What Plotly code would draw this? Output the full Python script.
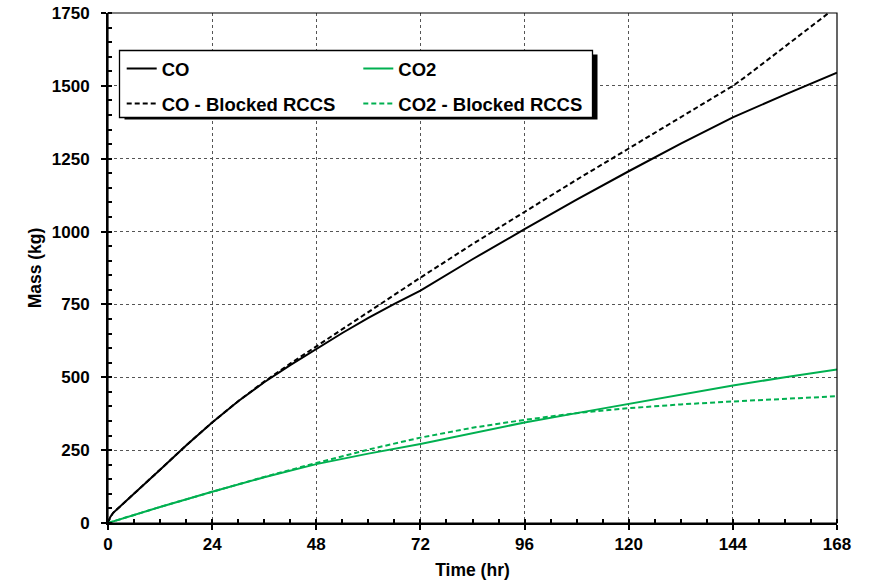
import plotly.graph_objects as go

# ---- data ----
hours_co = [0, 0.5, 1.2, 6, 12, 18, 24, 30, 36, 42, 48, 54, 60, 66, 72, 84, 96, 108, 120, 132, 144, 156, 168]
co_mass = [0, 20, 35, 100, 183, 266, 345, 418, 483, 542, 598, 652, 704, 752, 797, 905, 1008, 1110, 1207, 1302, 1392, 1470, 1545]

hours_co_blocked = [0, 0.5, 1.2, 6, 12, 18, 24, 30, 36, 42, 48, 54, 60, 66, 72, 84, 96, 108, 120, 132, 144, 147, 168]
co_blocked_mass = [0, 20, 35, 100, 183, 266, 345, 418, 485, 547, 606, 667, 726, 784, 842, 957, 1069, 1178, 1285, 1393, 1500, 1532, 1772]

hours_co2 = [0, 12, 24, 36, 48, 60, 72, 84, 96, 108, 120, 132, 144, 156, 168]
co2_mass = [0, 55, 107, 157, 202, 238, 271, 309, 345, 377, 409, 441, 472, 500, 527]
co2_blocked_mass = [0, 55, 107, 158, 206, 252, 293, 327, 354, 377, 394, 407, 417, 426, 435]

x_ticks = [0, 24, 48, 72, 96, 120, 144, 168]
y_ticks = [0, 250, 500, 750, 1000, 1250, 1500, 1750]

GREEN = "#00B050"
FONT = "Liberation Sans, Arial, sans-serif"

fig = go.Figure()
fig.add_trace(go.Scatter(x=hours_co, y=co_mass, mode="lines", name="<b>CO</b>",
                         line=dict(color="black", width=2), legend="legend", legendgroup="a"))
fig.add_trace(go.Scatter(x=hours_co_blocked, y=co_blocked_mass, mode="lines", name="<b>CO - Blocked RCCS</b>",
                         line=dict(color="black", width=2, dash="5px,3px"), legend="legend", legendgroup="b"))
fig.add_trace(go.Scatter(x=hours_co2, y=co2_mass, mode="lines", name="<b>CO2</b>",
                         line=dict(color=GREEN, width=2), legend="legend2", legendgroup="c"))
fig.add_trace(go.Scatter(x=hours_co2, y=co2_blocked_mass, mode="lines", name="<b>CO2 - Blocked RCCS</b>",
                         line=dict(color=GREEN, width=2, dash="5px,3px"), legend="legend2", legendgroup="d"))

# page pixel coordinates (body margin removed by post_script)
W, H = 872, 583
PL, PR, PT, PB = 108, 837, 13, 523   # plot area
ML, MT, MR, MB = PL, PT, W - PR, H - PB
PW, PH = PR - PL, PB - PT

def px(xp):
    return (xp - PL) / PW

def py(yp):
    return (PB - yp) / PH

box = dict(x0=119.5, x1=592.5, y0=50.5, y1=117.5)

shapes = [
    dict(type="rect", xref="paper", yref="paper", layer="above",
         x0=px(box["x0"] + 5), x1=px(box["x1"] + 5), y0=py(box["y1"] + 2), y1=py(box["y0"] + 4),
         fillcolor="black", line=dict(width=0)),
    dict(type="rect", xref="paper", yref="paper", layer="above",
         x0=px(box["x0"]), x1=px(box["x1"]), y0=py(box["y1"]), y1=py(box["y0"]),
         fillcolor="white", line=dict(color="black", width=1.3)),
    dict(type="rect", xref="paper", yref="paper", layer="above",
         x0=0, x1=1, y0=0, y1=1, line=dict(color="black", width=1.2)),
]

legend_common = dict(bgcolor="rgba(0,0,0,0)", borderwidth=0, orientation="v",
                     font=dict(family=FONT, size=18.5, color="black"),
                     tracegroupgap=8, xanchor="left", yanchor="top")

fig.update_layout(
    width=W, height=H,
    margin=dict(l=ML, r=MR, t=MT, b=MB, pad=0, autoexpand=False),
    paper_bgcolor="white", plot_bgcolor="white",
    font=dict(family=FONT, color="black"),
    shapes=shapes,
    legend=dict(x=px(121.7), y=py(50), **legend_common),
    legend2=dict(x=px(358.3), y=py(50), **legend_common),
    showlegend=True,
)

axis_common = dict(
    showline=True, linecolor="black", linewidth=2, mirror=False,
    showgrid=True, gridcolor="#555555", gridwidth=1, griddash="dot",
    zeroline=False, ticks="outside", ticklen=5, tickwidth=1.5, tickcolor="black",
    tickfont=dict(family=FONT, size=17, color="black"), automargin=False,
    ticklabeloverflow="allow",
)

fig.update_xaxes(
    range=[0, 168], tickvals=x_ticks, ticktext=[f"<b>{v}</b>" for v in x_ticks],
    title=dict(text="<b>Time (hr)</b>", font=dict(family=FONT, size=17.5), standoff=10),
    minor=dict(ticks="inside", ticklen=4, dtick=6, tick0=0, tickcolor="black", tickwidth=1.5, showgrid=False),
    **axis_common,
)
fig.update_yaxes(
    range=[0, 1750], tickvals=y_ticks, ticktext=[f"<b>{v}</b>" for v in y_ticks],
    title=dict(text="<b>Mass (kg)</b>", font=dict(family=FONT, size=17.5), standoff=6),
    minor=dict(ticks="inside", ticklen=4, dtick=50, tick0=0, tickcolor="black", tickwidth=1.5, showgrid=False),
    ticklabelstandoff=8,
    **axis_common,
)

fig.write_html("out.html",
               config={"displayModeBar": False},
               post_script="document.body.style.margin='0px';document.body.style.overflow='hidden';")
